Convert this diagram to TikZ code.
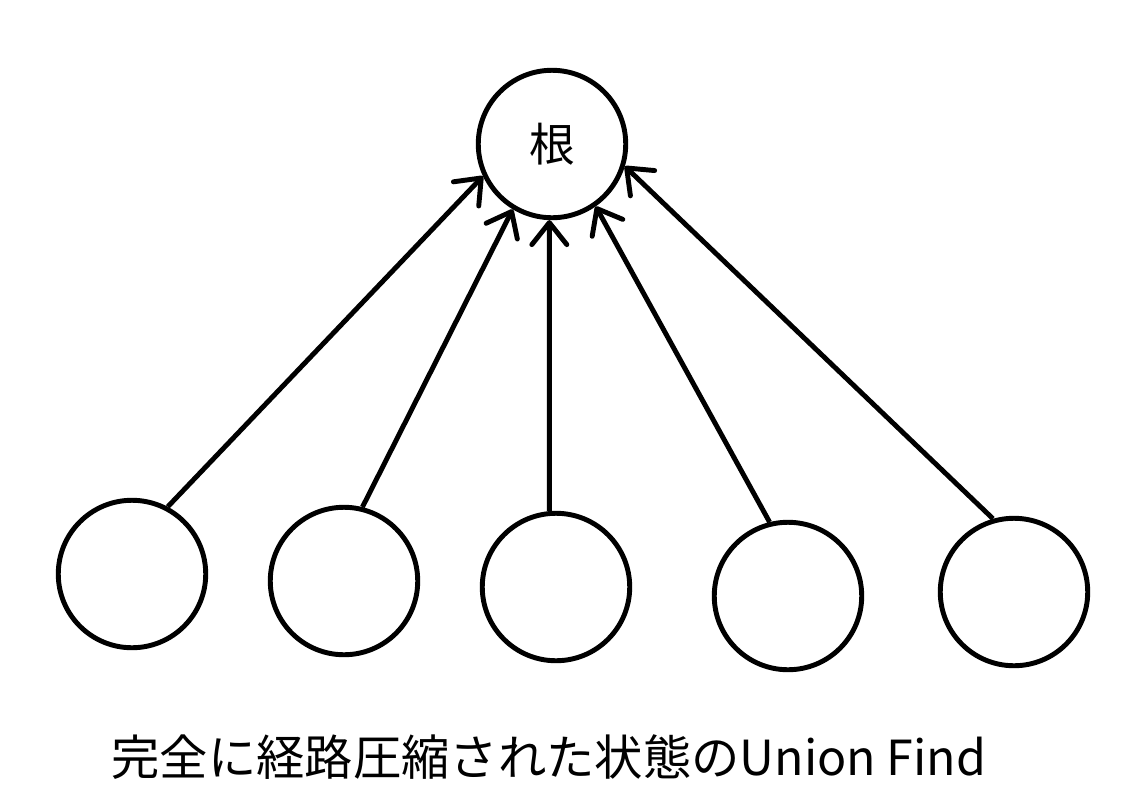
\documentclass[tikz,border=0pt]{standalone}
\usepackage{fontspec}
\setmainfont{Noto Sans CJK JP}
\usetikzlibrary{arrows.meta}

\begin{document}
\begin{tikzpicture}[x=0.02cm,y=-0.02cm,line width=2.8pt]
    %
    % `elem' is used for every set element (circles).
    % `link' is used for the parent pointers.
    \tikzstyle{elem} = [draw,shape=circle,minimum size=2.95cm,inner sep=0pt,font=\fontsize{26}{30}\selectfont]
    \tikzstyle{link} = [-{Straight Barb[length=0.44cm,width=0.7cm,round]}]
    %
    \useasboundingbox (0,0) rectangle (1134,799);
    %
    % Root
    \node[elem] (root) at (552,144) {根};
    %
    % Children
    \node[elem] (c1) at (132,574) {};
    \node[elem] (c2) at (344,581) {};
    \node[elem] (c3) at (556,587) {};
    \node[elem] (c4) at (788,596) {};
    \node[elem] (c5) at (1014,592) {};
    %
    % Parent pointers
    \draw[link] (c1.62) -- (root.205);
    \draw[link] (c2.76) -- (root.239);
    \draw[link] (c3.95) -- (root.268);
    \draw[link] (c4.104) -- (root.305);
    \draw[link] (c5.106) -- (root.343);
    %
    % Caption
    \node (caption) at (549,757) {\fontsize{27.5}{32}\selectfont 完全に経路圧縮された状態のUnion Find};
    %
\end{tikzpicture}
\end{document}
